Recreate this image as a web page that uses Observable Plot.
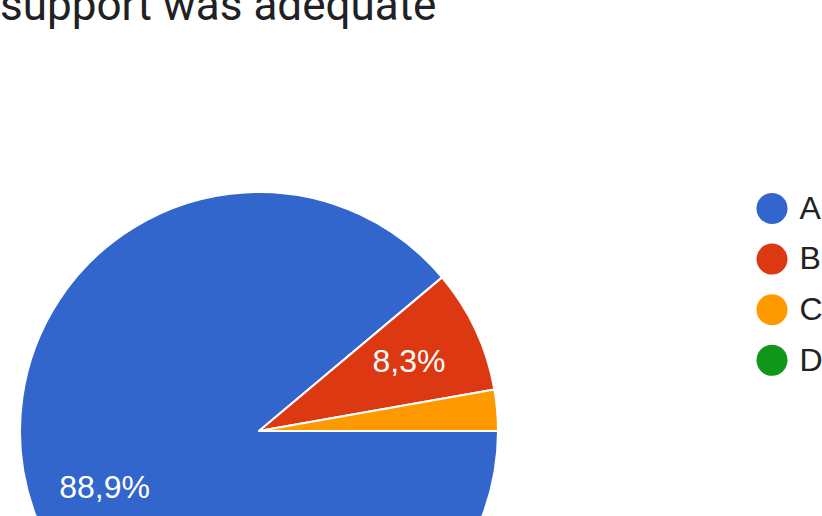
<!DOCTYPE html>
<html>
<head>
<meta charset="utf-8">
<script src="https://cdn.jsdelivr.net/npm/d3@7"></script>
<script src="https://cdn.jsdelivr.net/npm/@observablehq/plot@0.6"></script>
<style>
  html, body { margin: 0; padding: 0; background: #fff; overflow: hidden; }
  #wrap { position: relative; width: 822px; height: 516px; overflow: hidden; }
  #title { position: absolute; left: 0; top: -17px; font-family: Roboto, sans-serif; font-size: 44px; color: #202124; white-space: nowrap; line-height: 44px; }
  #chart { position: absolute; left: 0; top: 0; }
</style>
</head>
<body>
<div id="wrap">
  <div id="chart"></div>
  <div id="title">support was adequate</div>
</div>
<script>
const titleText = "support was adequate";
const categories = ["A", "B", "C", "D"];
const counts = [32, 3, 1, 0];
const colors = ["#3366cc", "#dc3912", "#ff9900", "#109618"];

const W = 822, H = 516;
const cx = 259, cy = 431, R = 239;
const total = d3.sum(counts);
const data = categories.map((c, i) => ({category: c, count: counts[i]}));
const pie = d3.pie().sort(null).value(d => d.count)
  .startAngle(Math.PI / 2).endAngle(Math.PI / 2 + 2 * Math.PI);
const arcs = pie(data);
const labelArc = d3.arc().innerRadius(R * 0.69).outerRadius(R * 0.69);
const fmt = v => (v / total * 100).toFixed(1).replace(".", ",") + "%";
const labels = arcs.filter(a => a.data.count / total >= 0.05).map(a => {
  const [dx, dy] = labelArc.centroid(a);
  return {x: cx + dx, y: cy + dy, text: fmt(a.data.count)};
});

const plot = Plot.plot({
  width: W, height: H, margin: 0,
  style: {fontFamily: "Arial, 'Liberation Sans', sans-serif", background: "transparent", overflow: "hidden"},
  x: {domain: [0, W], range: [0, W], axis: null},
  y: {domain: [0, H], range: [0, H], axis: null},
  color: {domain: categories, range: colors},
  marks: [
    (index, scales) => {
      const g = d3.create("svg:g");
      const arc = d3.arc().innerRadius(0).outerRadius(scales.x(R) - scales.x(0));
      g.selectAll("path").data(arcs.filter(a => a.data.count > 0)).join("path")
        .attr("transform", `translate(${scales.x(cx)},${scales.y(cy)})`)
        .attr("d", arc)
        .attr("fill", a => scales.color(a.data.category))
        .attr("stroke", "#fff")
        .attr("stroke-width", 2)
        .attr("stroke-linejoin", "round");
      return g.node();
    },
    Plot.text(labels, {x: "x", y: "y", text: "text", fill: "white", fontSize: 32, textAnchor: "middle", lineAnchor: "middle"}),
    Plot.dot(categories, {x: () => 771.5, y: (d, i) => 208 + i * 50.6, r: 15.5, fill: d => d, stroke: null}),
    Plot.text(categories, {x: () => 799, y: (d, i) => 208 + i * 50.6, text: d => d, fill: "#222", fontSize: 32, textAnchor: "start", lineAnchor: "middle"})
  ]
});
document.getElementById("chart").appendChild(plot);
</script>
</body>
</html>
